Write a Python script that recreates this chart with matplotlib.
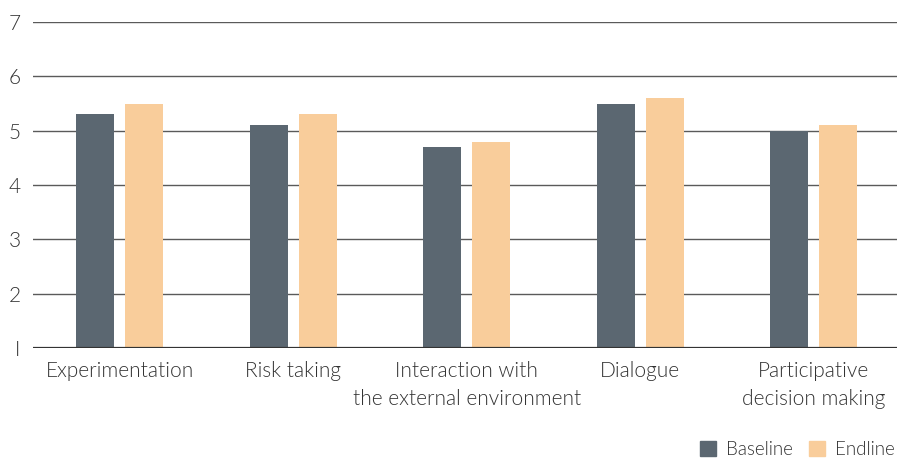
import numpy as np
import matplotlib.pyplot as plt
from matplotlib.patches import Patch

categories = ["Experimentation", "Risk taking", "Interaction with\nthe external environment",
              "Dialogue", "Participative\ndecision making"]
baseline = [5.3, 5.1, 4.7, 5.5, 5.0]
endline = [5.5, 5.3, 4.8, 5.6, 5.1]

c_base = "#5b6771"
c_end = "#f9cd9b"
txt = "#333333"

plt.rcParams["font.family"] = ["Lato", "DejaVu Sans"]
plt.rcParams["font.weight"] = 300

fig = plt.figure(figsize=(8.97, 4.59), dpi=100)
ax = fig.add_axes([0.0368, 0.2418, 0.9632, 0.7102])

x = np.arange(len(categories))
w = 0.22
off = 0.141
ax.bar(x - off, baseline, w, bottom=0, color=c_base, zorder=3)
ax.bar(x + off, endline, w, bottom=0, color=c_end, zorder=3)

ax.set_xlim(-0.5, 4.48)
ax.set_ylim(1, 7)
ax.set_yticks(range(1, 8))
ax.set_yticklabels(["I", "2", "3", "4", "5", "6", "7"])
ax.grid(axis="y", color="#5a5a5a", linewidth=1.0, zorder=1)
ax.axhline(1, color="#333333", linewidth=1.6, zorder=4)

for s in ax.spines.values():
    s.set_visible(False)

ax.tick_params(axis="both", length=0, labelcolor=txt)
ax.tick_params(axis="y", pad=9, labelsize=15)
ax.tick_params(axis="x", pad=9, labelsize=15)
ax.set_xticks(x)
ax.set_xticklabels(categories, linespacing=1.5)

handles = [Patch(color=c_base, label="Baseline"), Patch(color=c_end, label="Endline")]
fig.legend(handles=handles, loc="lower right", bbox_to_anchor=(1.016, -0.035), ncol=2,
           frameon=False, handlelength=0.85, handleheight=0.85, handletextpad=0.5,
           columnspacing=0.9, prop={"size": 13.5, "weight": 300}, labelcolor=txt)

fig.savefig("out.png", dpi=100)
